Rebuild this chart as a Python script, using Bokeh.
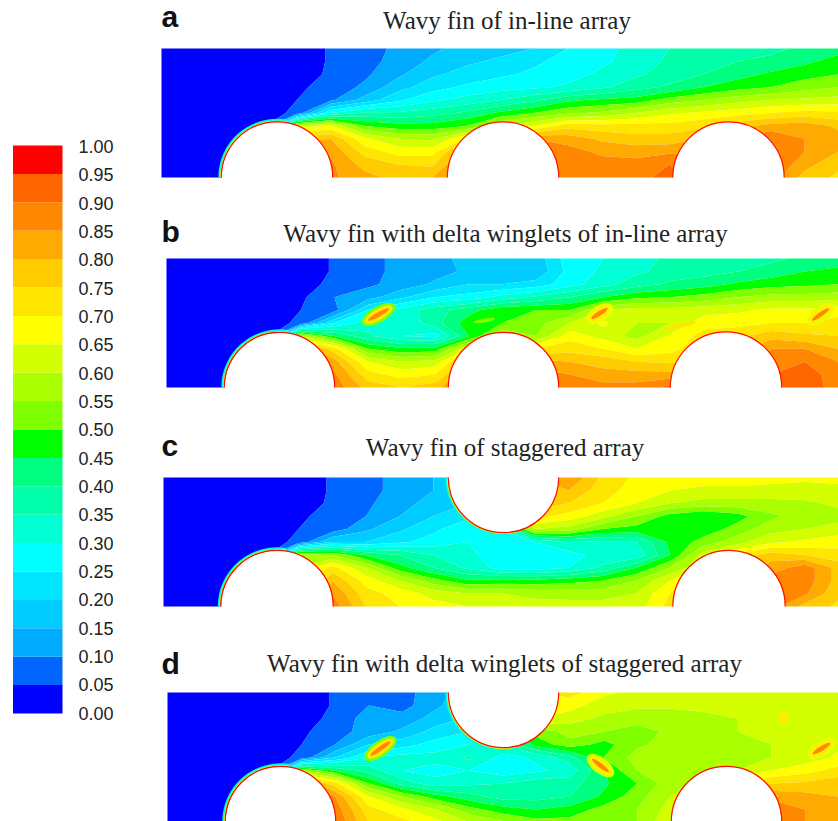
import numpy as np
from bokeh.plotting import figure
from bokeh.core.properties import value
from bokeh.embed import file_html
from bokeh.resources import INLINE

# ---- colour scale ----
scale_labels = ["0.00","0.05","0.10","0.15","0.20","0.25","0.30","0.35","0.40","0.45","0.50",
                "0.55","0.60","0.65","0.70","0.75","0.80","0.85","0.90","0.95","1.00"]
scale_colors = ["#0000ff","#0066ff","#00aaff","#00ccff","#00e6ff","#00ffff","#00ffd4","#00ffaa","#00ff80","#00ff00",
                "#80ff00","#aaff00","#d4ff00","#ffff00","#ffe600","#ffcc00","#ffaa00","#ff8800","#ff6600","#ff0000"]

titles = ["Wavy fin of in-line array", "Wavy fin with delta winglets of in-line array",
          "Wavy fin of staggered array", "Wavy fin with delta winglets of staggered array"]
letters = ["a", "b", "c", "d"]

# ---- fields (percent), rows from top to bottom ----
field_a = [
 [0,0,0,0,0,6,8,11,14,17,18,20,25,29,31,35,37,38,39,41,43],
 [0,0,0,0,0,6,8,12,16,19,21,24,27,29,32,36,38,40,41,44,47],
 [0,0,0,0,2,6,9,14,19,22,24,26,28,31,34,37,40,43,46,48,50],
 [0,0,0,0,4,7,11,18,23,26,28,29,31,34,38,41,45,48,50,53,55],
 [0,0,0,1,5,9,17,24,29,32,35,39,44,46,47,52,55,58,60,61,62],
 [0,0,0,3,6,30,36,36,38,41,46,50,54,56,60,64,66,68,70,72,71],
 [0,0,0,0,62,66,50,47,47,50,60,65,73,72,72,72,74,78,82,83,79],
 [0,0,0,0,78,80,66,60,59,70,75,85,83,79,77,77,80,85,90,85,82],
 [0,0,0,0,84,84,73,68,68,85,85,88,87,84,83,84,85,85,90,85,80],
 [0,0,0,0,86,86,78,75,74,88,88,90,88,87,87,90,88,85,90,82,76],
 [0,0,0,0,86,86,82,78,80,92,88,92,88,88,88,92,88,85,88,78,74],
]
field_b = [
 [0,0,0,0,0,6,8,12,13,17,17,17,28,30,33,36,37,38,39,41,43],
 [0,0,0,0,0,6,8,12,13,16,17,16,27,31,34,37,38,40,42,45,46],
 [0,0,0,0,2,7,9,12,16,20,20,22,28,33,38,41,43,46,48,49,50],
 [0,0,0,0,4,10,13,19,25,27,32,36,40,45,49,50,52,55,57,57,58],
 [0,0,0,1,5,8,25,32,38,43,49,50,50,60,62,62,63,64,66,66,68],
 [0,0,0,3,6,25,33,31,38,48,50,53,60,66,60,60,68,68,70,70,72],
 [0,0,0,0,60,45,36,30,28,45,60,55,68,63,58,66,72,74,78,76,75],
 [0,0,0,0,85,72,50,46,47,65,75,70,73,70,65,68,74,78,85,85,80],
 [0,0,0,0,88,82,65,60,62,80,75,82,80,78,75,74,76,80,88,90,85],
 [0,0,0,0,90,86,72,68,70,85,75,88,85,82,82,82,80,85,90,92,88],
 [0,0,0,0,90,88,78,75,78,90,75,92,88,87,87,92,85,85,90,94,87],
]
field_c = [
 [0,0,0,0,0,6,8,12,15,20,50,80,85,74,69,68,67,67,66,66,66],
 [0,0,0,0,0,6,8,12,15,19,50,80,80,72,68,65,64,64,64,63,64],
 [0,0,0,0,2,6,9,13,17,20,50,78,75,70,65,60,58,58,58,59,61],
 [0,0,0,0,4,7,10,15,20,24,45,72,68,62,55,48,45,48,54,57,58],
 [0,0,0,1,5,7,14,19,24,28,30,60,58,50,48,47,47,52,58,60,62],
 [0,0,0,3,6,20,20,24,27,30,27,30,35,34,35,46,52,58,64,66,68],
 [0,0,0,0,58,55,45,40,35,32,26,26,28,32,31,45,62,70,78,75,72],
 [0,0,0,0,60,72,60,47,40,34,28,27,30,36,45,55,65,75,82,88,78],
 [0,0,0,0,60,80,68,60,52,46,47,47,48,50,55,65,75,82,88,88,78],
 [0,0,0,0,60,85,72,68,63,60,60,58,58,58,60,70,80,85,88,86,76],
 [0,0,0,0,60,88,75,70,67,65,64,63,62,62,62,72,85,85,88,78,74],
]
field_d = [
 [0,0,0,0,0,6,9,8,13,18,40,70,72,66,64,63,63,63,62,62,62],
 [0,0,0,0,0,6,10,8,14,19,40,68,67,62,61,61,61,62,62,62,62],
 [0,0,0,0,2,7,12,12,17,21,40,65,62,59,57,57,59,60,62,62,62],
 [0,0,0,0,4,8,12,16,22,25,40,52,57,55,53,56,57,60,62,62,65],
 [0,0,0,1,5,10,20,23,27,30,35,47,53,48,54,57,56,58,60,62,64],
 [0,0,0,3,6,20,30,32,32,36,28,31,38,50,57,58,58,58,60,62,66],
 [0,0,0,0,56,45,38,30,28,30,27,29,32,45,55,58,58,60,65,68,72],
 [0,0,0,0,85,72,50,38,32,34,35,38,38,44,50,58,62,70,75,76,78],
 [0,0,0,0,88,85,65,55,47,42,38,38,40,46,53,60,70,82,84,82,80],
 [0,0,0,0,90,88,72,66,60,52,47,45,47,52,55,62,75,85,88,85,82],
 [0,0,0,0,90,90,75,72,67,60,56,52,52,53,55,65,80,85,88,85,80],
]
fields = [field_a, field_b, field_c, field_d]

W, H = 838, 821
def Y(py):
    return 821 - np.asarray(py, dtype=float)

p = figure(width=W, height=H, x_range=(0, 838), y_range=(0, 821), x_axis_type=None, y_axis_type=None,
           toolbar_location=None, output_backend="svg", min_border=0)
p.grid.visible = False
p.outline_line_color = None
p.background_fill_color = "white"
p.border_fill_color = "white"

levels = [-0.01] + [i * 0.05 for i in range(1, 20)] + [1.01]

panels = [(161, 48, 177), (166, 258, 387), (163, 477, 606), (167, 692, 822)]
holes = [
    [(276.5, 177, 55.5, 1, True), (502.5, 177, 55.5, 1, False), (728, 177, 55.5, 1, False)],
    [(279, 387, 55, 1, True), (503, 387, 55, 1, False), (725.5, 387, 55.5, 1, False)],
    [(276.5, 606, 56, 1, True), (503, 477, 55, -1, True), (728.5, 606, 56, 1, False)],
    [(280, 821, 55, 1, True), (503, 692, 55, -1, True), (726, 821, 55, 1, False)],
]
# x, y, length, angle, halo colour, ring colour
winglets = [(378, 314, 30, 30, "#80ff00", "#ffe600"), (599, 313, 24, 32, "#e8ff00", "#ffee00"),
            (820, 314, 26, 35, "#e8ff00", "#ffee00"), (380, 748, 30, 35, "#80ff00", "#ffe600"),
            (600, 765, 26, -38, "#d4ff00", "#ffee00"), (821, 748, 26, 32, "#e8ff00", "#ffee00")]
# small patches of the field: x, y, width, height, angle, colour
patches = [(484, 320, 22, 4, 10, "#80ff00"), (680, 325, 34, 4, 12, "#ffe600"), (783, 717, 10, 13, 0, "#ffee00")]

for (x0, top, bot), fld, hs in zip(panels, fields, holes):
    z = np.array(fld, dtype=float) / 100.0
    xs = np.linspace(x0, 838, z.shape[1])
    ys = Y(np.linspace(top, bot, z.shape[0]))
    p.contour(xs, ys[::-1], z[::-1], levels, fill_color=scale_colors, line_color=None)
    for hx, hy, r, side, halo in hs:
        yc = float(Y(hy))
        p.circle([hx], [yc], radius=r, fill_color="white", line_color=None)
        if side > 0:
            a0, a1, b0, b1 = 0.0, np.pi, np.pi * 0.45, np.pi
        else:
            a0, a1, b0, b1 = np.pi, 2 * np.pi, np.pi, np.pi * 1.6
        if halo:
            p.arc([hx], [yc], radius=r + 2.2, start_angle=b0, end_angle=b1, line_color="#00ffd4", line_width=2)
            p.arc([hx], [yc], radius=r + 1.0, start_angle=b0, end_angle=b1, line_color="#ddff00", line_width=1.2)
        p.arc([hx], [yc], radius=r + 0.2, start_angle=a0, end_angle=a1, line_color="#ff1000", line_width=1.2)

for gx, gy, gw, gh, ga, col in patches:
    p.ellipse([gx], [float(Y(gy))], width=gw, height=gh, angle=np.deg2rad(ga), fill_color=col, line_color=None)

for gx, gy, length, ang, halo_col, ring_col in winglets:
    for k, h, col in [(1.25, 16, halo_col), (1.05, 11, ring_col), (0.8, 4.5, "#ff8800")]:
        p.ellipse([gx], [float(Y(gy))], width=length * k, height=h, angle=np.deg2rad(ang),
                  fill_color=col, line_color=None)

# colour scale
n = len(scale_colors)
bar_bottom, bar_top = 713.0, 145.0
edges = np.linspace(bar_bottom, bar_top, n + 1)
p.quad(left=[12.5] * n, right=[62] * n, bottom=Y(edges[:-1]), top=Y(edges[1:]), fill_color=scale_colors, line_color=None)
p.text([78] * len(scale_labels), Y(np.linspace(712.5, 146, len(scale_labels))), text=scale_labels,
       text_font=value("Liberation Sans"), text_font_size="18px", text_color="#222222",
       text_align="left", text_baseline="middle")

# titles and panel letters
p.text([506.5, 505, 504.5, 504], Y([19.5, 232.5, 446.5, 662.5]), text=titles, text_font=value("Liberation Serif"),
       text_font_size="25px", text_color="#222222", text_align="center", text_baseline="middle")
p.text([161, 161, 161, 161], Y([16, 231, 445, 663]), text=letters, text_font=value("Liberation Sans"),
       text_font_style="bold", text_font_size="30px", text_color="#111111", text_align="left", text_baseline="middle")

open("out.html", "w").write(file_html(p, INLINE))
